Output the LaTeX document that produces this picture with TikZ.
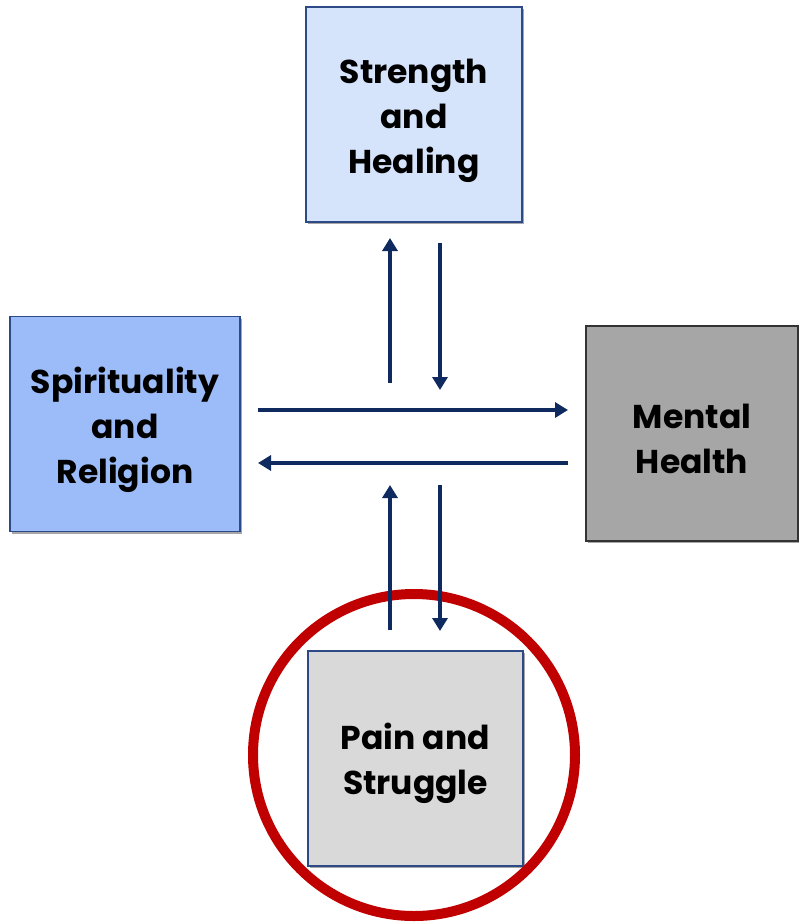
\documentclass[tikz,border=0pt]{standalone}
\usepackage{fontspec}
\setmainfont{Poppins}
\usetikzlibrary{arrows.meta,shadows,calc}
\definecolor{navy}{HTML}{0F2A5E}
\definecolor{lightblue}{HTML}{D5E3FB}
\definecolor{midblue}{HTML}{9BBCF8}
\definecolor{boxedge}{HTML}{2E4A86}
\definecolor{gray1}{HTML}{A6A6A6}
\definecolor{gray2}{HTML}{D9D9D9}
\definecolor{ringred}{HTML}{C00000}
\tikzset{
  box/.style={draw=boxedge, line width=1.2pt, minimum width=#1, minimum height=215pt, inner sep=0pt,
    drop shadow={opacity=0.35, shadow xshift=2pt, shadow yshift=-2pt, fill=black}},
  box/.default=216pt,
  txt/.style={align=center, font=\fontsize{33}{45}\selectfont\bfseries, inner sep=0pt},
  flow/.style={draw=navy, line width=4.5pt, -{Triangle[length=13pt,width=15pt]}},
  ring/.style={draw=ringred, line width=10pt}
}
\begin{document}
\begin{tikzpicture}[x=1pt,y=-1pt]
\useasboundingbox (0,0) rectangle (798,923);
\node[box, fill=lightblue] (sh) at (414,114.5) {};
\node[box=230pt, fill=midblue] (sr) at (125,424) {};
\node[box=212pt, fill=gray1, draw=black!80] (mh) at (692,433.5) {};
\node[box=215pt, fill=gray2] (ps) at (415.5,758.5) {};
\node[txt] (tsh) at ($(sh.center)+(0,6)$) {Strength\\and\\Healing};
\node[txt] (tsr) at ($(sr.center)+(0,6)$) {Spirituality\\and\\Religion};
\node[txt] (tmh) at ($(mh.center)+(0,5)$) {Mental\\Health};
\node[txt] (tps) at ($(ps.center)+(0,5)$) {Pain and\\Struggle};
\node[ring, circle, minimum size=322pt, inner sep=0pt] (rc) at (414,755) {};
% free ends
\coordinate (a1s) at (390,383); \coordinate (a1e) at (390,238);
\coordinate (a2s) at (440,243); \coordinate (a2e) at (440,390);
\coordinate (a3s) at (258,410); \coordinate (a3e) at (568,410);
\coordinate (a4s) at (568,463); \coordinate (a4e) at (258,463);
\coordinate (a5s) at (390,630); \coordinate (a5e) at (390,485);
\coordinate (a6s) at (440,485); \coordinate (a6e) at (440,631);
\draw[flow] (a1s) -- (a1e);
\draw[flow] (a2s) -- (a2e);
\draw[flow] (a3s) -- (a3e);
\draw[flow] (a4s) -- (a4e);
\draw[flow] (a5s) -- (a5e);
\draw[flow] (a6s) -- (a6e);
\end{tikzpicture}
\end{document}
